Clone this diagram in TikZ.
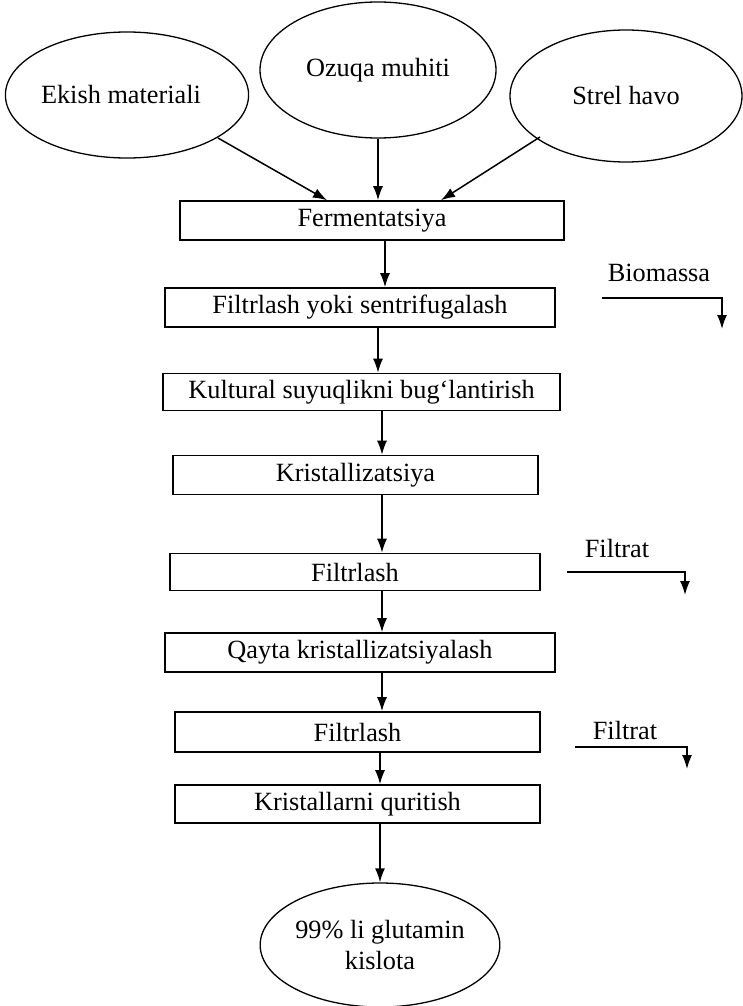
\documentclass[tikz,border=0pt]{standalone}
\usepackage{fontspec}
\setmainfont{Liberation Serif}
\usetikzlibrary{shapes.geometric,arrows.meta}
\begin{document}
\begin{tikzpicture}[x=1pt,y=-1pt,
  font=\fontsize{26.3}{31}\selectfont,
  every node/.style={inner sep=0pt},
  oval/.style={draw,ellipse,line width=1.3pt},
  stepbox/.style={draw,rectangle,line width=1.6pt},
  arr/.style={line width=1.5pt,-{Latex[length=14pt,width=10pt]}},
  side/.style={line width=1.6pt,-{Latex[length=14pt,width=10pt]}}]
\useasboundingbox (0,0) rectangle (743,1006);

% inputs
\node[oval,minimum width=236pt,minimum height=126pt] (ekish) at (127,95) {Ekish materiali\hspace*{12pt}};
\node[oval,minimum width=236pt,minimum height=136pt] (ozuqa) at (378,70) {Ozuqa muhiti};
\node[oval,minimum width=232pt,minimum height=132pt] (strel) at (626,96) {Strel havo};

% process steps
\node[stepbox,minimum width=384pt,minimum height=39pt] (b1) at (372,220.5) {Fermentatsiya};
\node[stepbox,minimum width=390pt,minimum height=39pt] (b2) at (360,307.5) {Filtrlash yoki sentrifugalash};
\node[stepbox,minimum width=397pt,minimum height=37pt] (b3) at (361.5,392) {Kultural suyuqlikni bug‘lantirish};
\node[stepbox,minimum width=365pt,minimum height=39pt] (b4) at (355.5,475) {Kristallizatsiya};
\node[stepbox,minimum width=370pt,minimum height=37pt] (b5) at (355,572) {Filtrlash};
\node[stepbox,minimum width=390pt,minimum height=39pt] (b6) at (360,652.5) {Qayta kristallizatsiyalash};
\node[stepbox,minimum width=365pt,minimum height=40pt] (b7) at (357.5,732) {Filtrlash};
\node[stepbox,minimum width=365pt,minimum height=38pt] (b8) at (357.5,804) {Kristallarni quritish};

% product
\node[oval,minimum width=236pt,minimum height=124pt,align=center] (prod) at (380,945) {99\% li glutamin\\kislota};

% inputs into fermentation
\coordinate (e1) at (218,138);
\coordinate (s1) at (540,137);
\draw[arr] (e1) -- (327,0 |- b1.north);
\draw[arr] (ozuqa.south) -- (378,0 |- b1.north);
\draw[arr] (s1) -- (441,0 |- b1.north);

% main flow
\coordinate (ax) at (382,0);
\draw[arr] (385,0 |- b1.south) -- (385,0 |- b2.north);
\draw[arr] (378,0 |- b2.south) -- (378,0 |- b3.north);
\draw[arr] (ax |- b3.south) -- (ax |- b4.north);
\draw[arr] (ax |- b4.south) -- (ax |- b5.north);
\draw[arr] (ax |- b5.south) -- (ax |- b6.north);
\draw[arr] (ax |- b6.south) -- (ax |- b7.north);
\draw[arr] (380,0 |- b7.south) -- (380,0 |- b8.north);
\draw[arr] (380,0 |- b8.south) -- (380,0 |- prod.north);

% side outputs
\node (bio) at (659,273) {Biomassa};
\coordinate (bioA) at (602,298);
\coordinate (bioB) at (722,329);
\draw[side] (bioA) -- (bioA -| bioB) -- (bioB);

\node (fil1) at (617,548) {Filtrat};
\coordinate (f1A) at (567,572);
\coordinate (f1B) at (685,595);
\draw[side] (f1A) -- (f1A -| f1B) -- (f1B);

\node (fil2) at (625,730) {Filtrat};
\coordinate (f2A) at (575,747);
\coordinate (f2B) at (687,769);
\draw[side] (f2A) -- (f2A -| f2B) -- (f2B);
\end{tikzpicture}
\end{document}
